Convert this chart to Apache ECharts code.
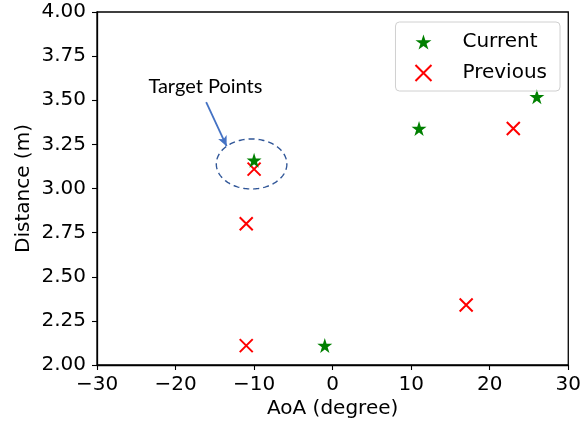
<!DOCTYPE html>
<html><head><meta charset="utf-8">
<script src="https://cdn.jsdelivr.net/npm/echarts@6/dist/echarts.min.js"></script>
<style>html,body{margin:0;padding:0;background:#fff}#c{width:584px;height:426px}</style>
</head><body><div id="c"></div>
<script>
// ---- data ----
const currentAoA = [-10, 11, 26, -1];
const currentDist = [3.16, 3.34, 3.52, 2.11];
const previousAoA = [-10, -11, -11, 17, 23];
const previousDist = [3.11, 2.80, 2.11, 2.34, 3.34];
const xTicks = [-30, -20, -10, 0, 10, 20, 30];
const yTicks = [2.00, 2.25, 2.50, 2.75, 3.00, 3.25, 3.50, 3.75, 4.00];
// annotation (data coordinates)
const ellipseCenter = [-10.32, 3.139];
const ellipseRadii = [4.49, 0.1416];
const arrowFrom = [-16.1, 3.49];
const arrowTo = [-13.5, 3.24];
const labelPos = [-16.2, 3.575];
const labelText = 'Target Points';

const FONT = 'DejaVu Sans';
function starPath() {
  let pts = [];
  for (let i = 0; i < 10; i++) {
    const r = i % 2 === 0 ? 10 : 3.82;
    const a = -Math.PI / 2 + i * Math.PI / 5;
    pts.push((10 + r * Math.cos(a)).toFixed(3) + ',' + (10 + r * Math.sin(a)).toFixed(3));
  }
  return 'path://M' + pts.join('L') + 'Z';
}
const STAR = starPath();
const XMARK = 'path://M0,0L10,10M10,0L0,10';
const minus = v => v < 0 ? '\u2212' + Math.abs(v) : String(v);

const chart = echarts.init(document.getElementById('c'), null, {renderer: 'canvas'});
const axisCommon = {
  axisLine: {show: true, onZero: false, lineStyle: {color: '#000', width: 1.3}},
  axisTick: {show: true, inside: false, length: 5, lineStyle: {color: '#000', width: 1.1}},
  splitLine: {show: false},
  nameLocation: 'middle',
  nameMoveOverlap: false,
  nameTextStyle: {fontFamily: FONT, fontSize: 20, color: '#000'},
  axisLabel: {fontFamily: FONT, fontSize: 20, color: '#000'}
};
chart.setOption({
  animation: false,
  backgroundColor: '#fff',
  grid: {left: 97, right: 13, top: 12, bottom: 61, show: true, borderColor: '#000', borderWidth: 1.3, backgroundColor: 'transparent'},
  xAxis: Object.assign({}, axisCommon, {
    type: 'value', min: xTicks[0], max: xTicks[xTicks.length - 1], interval: 10,
    name: 'AoA (degree)', nameGap: 34,
    axisLabel: Object.assign({}, axisCommon.axisLabel, {formatter: minus, margin: 10})
  }),
  yAxis: Object.assign({}, axisCommon, {
    type: 'value', min: yTicks[0], max: yTicks[yTicks.length - 1], interval: 0.25,
    name: 'Distance (m)', nameGap: 63,
    axisLabel: Object.assign({}, axisCommon.axisLabel, {formatter: v => v.toFixed(2), margin: 11})
  }),
  legend: {
    top: 22, right: 24, orient: 'vertical',
    itemWidth: 16, itemHeight: 16, itemGap: 11,
    padding: [10, 13, 8, 19],
    borderColor: '#d0d0d0', borderWidth: 1, borderRadius: 4,
    textStyle: {fontFamily: FONT, fontSize: 20, lineHeight: 20, color: '#000', padding: [0, 0, 0, 26]},
    data: [
      {name: 'Current', icon: STAR, itemStyle: {color: '#008000', borderWidth: 0, opacity: 1}},
      {name: 'Previous', icon: XMARK, itemStyle: {color: 'transparent', borderColor: '#ff0000', borderWidth: 2, opacity: 1}}
    ]
  },
  series: [
    {
      name: 'Current', type: 'scatter', symbol: STAR, symbolSize: 15, z: 3,
      itemStyle: {color: '#008000', opacity: 1},
      data: currentAoA.map((x, i) => [x, currentDist[i]])
    },
    {
      name: 'Previous', type: 'scatter', symbol: XMARK, symbolSize: 13, z: 2,
      itemStyle: {color: 'transparent', borderColor: '#ff0000', borderWidth: 2, opacity: 1},
      data: previousAoA.map((x, i) => [x, previousDist[i]]),
      markLine: {
        silent: true, animation: false,
        lineStyle: {color: '#4472c4', width: 1.8, type: 'solid', opacity: 1},
        label: {show: false},
        symbolSize: [7, 10],
        data: [[{coord: arrowFrom, symbol: 'none'}, {coord: arrowTo, symbol: 'arrow'}]]
      }
    }
  ]
});

function drawAnnotations() {
  const c = chart.convertToPixel({gridIndex: 0}, ellipseCenter);
  const e = chart.convertToPixel({gridIndex: 0}, [ellipseCenter[0] + ellipseRadii[0], ellipseCenter[1] + ellipseRadii[1]]);
  const rx = Math.abs(e[0] - c[0]), ry = Math.abs(e[1] - c[1]);
  const pts = [];
  for (let i = 0; i < 160; i++) {
    const a = i / 160 * Math.PI * 2;
    pts.push([c[0] + rx * Math.cos(a), c[1] + ry * Math.sin(a)]);
  }
  const lp = chart.convertToPixel({gridIndex: 0}, labelPos);
  chart.setOption({
    graphic: [
      {type: 'polygon', shape: {points: pts}, z: 10, silent: true,
       style: {fill: 'none', stroke: '#2f5597', lineWidth: 1.4, lineDash: [6, 4]}},
      {type: 'text', x: lp[0], y: lp[1], z: 10, silent: true,
       style: {text: labelText, fontFamily: 'Lato', fontSize: 20, fill: '#000', align: 'center', verticalAlign: 'middle'}}
    ]
  });
}
drawAnnotations();
</script>
</body></html>
